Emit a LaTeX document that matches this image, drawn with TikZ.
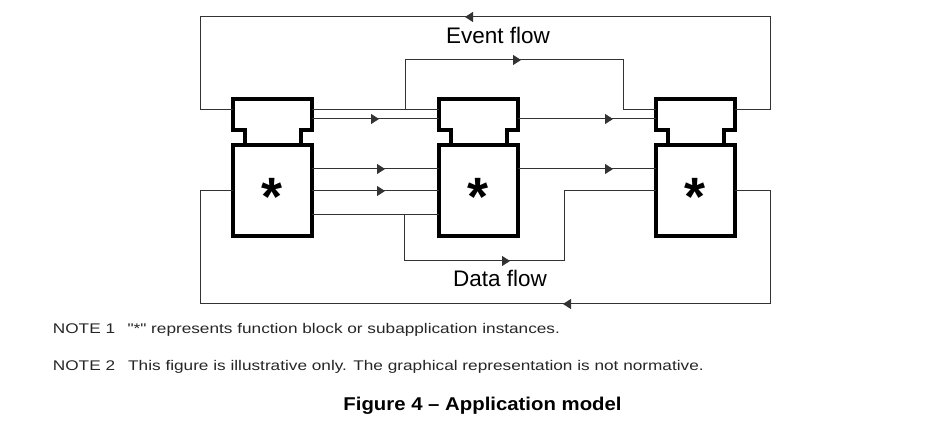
\documentclass[tikz,border=0pt]{standalone}
\usepackage{fontspec}
\setmainfont{Liberation Sans}
\newfontfamily\notefont[FakeStretch=1.23]{Liberation Sans}
\newfontfamily\capfont[FakeStretch=1.1]{Liberation Sans}
\usetikzlibrary{arrows.meta,decorations.markings}

\tikzset{
  head/.style={minimum width=79pt, minimum height=31pt, inner sep=0pt, outer sep=0pt},
  body/.style={draw, line width=4pt, minimum width=79pt, minimum height=91pt, inner sep=0pt, outer sep=0pt},
  blk/.style={line width=4pt, line join=miter},
  flow/.style={color=black!80, line width=1pt},
  arr/.style={postaction={decorate}, decoration={markings, mark=at position #1 with {\arrow{Triangle[length=8pt,width=10pt]}}}},
  fbstar/.style={font=\fontsize{54}{54}\selectfont\bfseries, inner sep=0pt, yshift=-6pt},
  lbl/.style={font=\fontsize{22.5}{26}\selectfont, anchor=base, inner sep=0pt},
  note/.style={font=\notefont\fontsize{14}{16}\selectfont, text=black!85, anchor=base west, inner sep=0pt},
  figcap/.style={font=\capfont\fontsize{18.5}{22}\selectfont\bfseries, anchor=base, inner sep=0pt}
}

\begin{document}
\begin{tikzpicture}[x=1pt, y=-1pt]
  \useasboundingbox (0,0) rectangle (948,427);

  % function blocks
  \node[head] (h1) at (272.5,114.5) {};
  \node[body] (b1) at (272.5,191) {};
  \node[fbstar] (s1) at (b1.center) {*};
  \node[head] (h2) at (478.5,114.5) {};
  \node[body] (b2) at (478.5,191) {};
  \node[fbstar] (s2) at (b2.center) {*};
  \node[head] (h3) at (695.5,114.5) {};
  \node[body] (b3) at (695.5,191) {};
  \node[fbstar] (s3) at (b3.center) {*};
  \draw[blk] ([xshift=11.5pt]b1.north west) |- (h1.south west) -- (h1.north west) -- (h1.north east) -- (h1.south east) -| ([xshift=-11.5pt]b1.north east);
  \draw[blk] ([xshift=11.5pt]b2.north west) |- (h2.south west) -- (h2.north west) -- (h2.north east) -- (h2.south east) -| ([xshift=-11.5pt]b2.north east);
  \draw[blk] ([xshift=11.5pt]b3.north west) |- (h3.south west) -- (h3.north west) -- (h3.north east) -- (h3.south east) -| ([xshift=-11.5pt]b3.north east);

  % event flow
  \draw[flow] ([yshift=4.5pt]h1.east) -- ([yshift=4.5pt]h2.west);
  \draw[flow, arr=259pt] ([yshift=4.5pt]h1.east) -- ++(93,0) |- (623,60) |- ([yshift=4.5pt]h3.west);
  \draw[flow, arr=67pt] ([yshift=-4.5pt]h1.east) -- ([yshift=-4.5pt]h2.west);
  \draw[flow, arr=95pt] ([yshift=-4.5pt]h2.east) -- ([yshift=-4.5pt]h3.west);
  \draw[flow, arr=433pt] ([yshift=4.5pt]h3.east) -- ++(35,0) |- (200,17) |- ([yshift=4.5pt]h1.west);
  \node[lbl] (evt) at (498,43.3) {Event flow};

  % data flow
  \draw[flow, arr=73pt] ([yshift=22pt]b1.east) -- ([yshift=22pt]b2.west);
  \draw[flow, arr=73pt] (b1.east) -- (b2.west);
  \draw[flow] ([yshift=-24pt]b1.east) -- ([yshift=-24pt]b2.west);
  \draw[flow, arr=244pt] ([yshift=-24pt]b1.east) -- ++(92,0) |- (564,261) |- (b3.west);
  \draw[flow, arr=95pt] ([yshift=22pt]b2.east) -- ([yshift=22pt]b3.west);
  \draw[flow, arr=355pt] (b3.east) -- ++(35,0) |- (200,304) |- (b1.west);
  \node[lbl] (dat) at (500,287) {Data flow};

  % notes and caption
  \node[note] (n1) at (52.7,334) {NOTE 1};
  \node[note] (t1) at (127.3,334) {"*" represents function block or subapplication instances.};
  \node[note] (n2) at (52.7,371) {NOTE 2};
  \node[note] (t2) at (128,371) {This figure is illustrative only. The graphical representation is not normative.};
  \node[figcap] (fig) at (482.5,410.7) {Figure 4 – Application model};
\end{tikzpicture}
\end{document}
